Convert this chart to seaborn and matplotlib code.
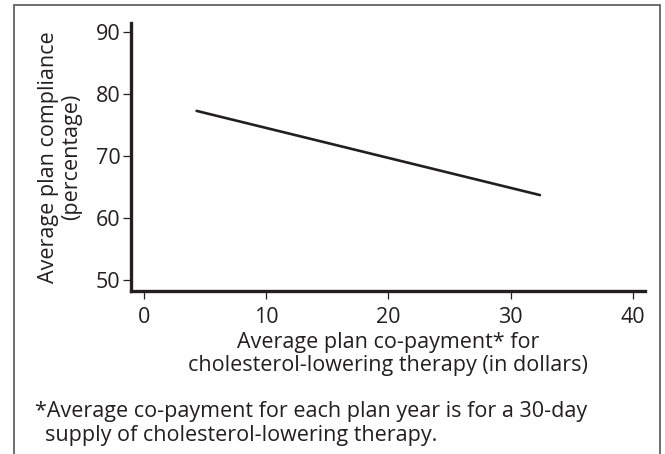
import matplotlib
matplotlib.use("Agg")
import matplotlib.pyplot as plt
import matplotlib.patches as mpatches
import pandas as pd
import seaborn as sns

copay = [4.3, 32.4]
compliance = [77.3, 63.7]
x_ticks = [0, 10, 20, 30, 40]
y_ticks = [50, 60, 70, 80, 90]

INK = "#231f20"
FS = 15.5

sns.set_style("ticks")
plt.rcParams["font.family"] = ["Open Sans", "DejaVu Sans"]
plt.rcParams["text.color"] = INK
plt.rcParams["axes.labelcolor"] = INK
plt.rcParams["xtick.color"] = INK
plt.rcParams["ytick.color"] = INK

df = pd.DataFrame({"copay": copay, "compliance": compliance})

fig = plt.figure(figsize=(6.65, 4.54), dpi=100)
ax = fig.add_axes([131 / 665, 1 - 291 / 454, (645 - 131) / 665, (291 - 23) / 454])

sns.lineplot(data=df, x="copay", y="compliance", color=INK, linewidth=1.9, ax=ax)

ax.set_xlim(-1.07, 41.0)
ax.set_ylim(48.2, 91.5)
ax.set_xticks(x_ticks)
ax.set_yticks(y_ticks)
ax.tick_params(labelsize=FS, length=5.5, width=0.9)
ax.tick_params(axis="x", pad=6)
ax.tick_params(axis="y", pad=2)
for side in ["top", "right"]:
    ax.spines[side].set_visible(False)
for side in ["left", "bottom"]:
    ax.spines[side].set_linewidth(2.4)
    ax.spines[side].set_color(INK)

ax.set_xlabel("Average plan co-payment* for\ncholesterol-lowering therapy (in dollars)",
              fontsize=FS, labelpad=3, linespacing=1.12)
ax.set_ylabel("Average plan compliance\n(percentage)", fontsize=FS,
              labelpad=10, linespacing=1.12)

fig.text(35 / 665, 1 - 412 / 454,
         "*Average co-payment for each plan year is for a 30-day",
         fontsize=FS, va="center", ha="left")
fig.text(45 / 665, 1 - 436 / 454, "supply of cholesterol-lowering therapy.",
         fontsize=FS, va="center", ha="left")

# outer frame of the figure panel
frame = mpatches.Rectangle((14 / 665, -0.02), (660 - 14) / 665, 1.02 - 5 / 454,
                           transform=fig.transFigure, fill=False,
                           edgecolor="#555555", linewidth=1.2)
fig.patches.append(frame)

plt.savefig("out.png", dpi=100)
plt.close()
